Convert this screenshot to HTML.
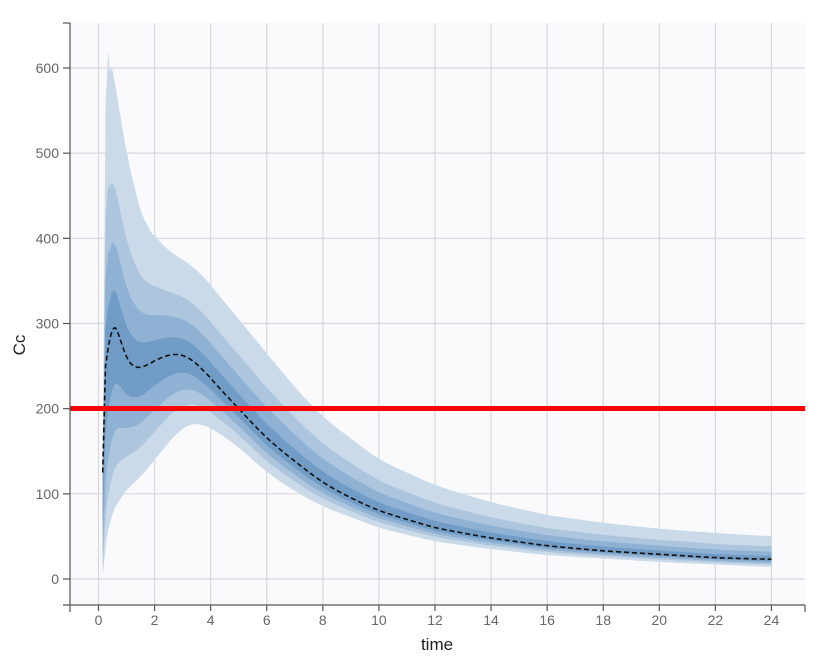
<!DOCTYPE html>
<html><head><meta charset="utf-8"><style>
body{margin:0;background:#fff;}
svg{display:block;font-family:"Liberation Sans",sans-serif;}
</style></head><body>
<svg id="s" width="837" height="662" xmlns="http://www.w3.org/2000/svg">
<rect x="70" y="23" width="735" height="582" fill="#fafafd"/>
<g id="grid" stroke="#d8d8dc" stroke-width="1.2"></g>
<g id="bands"></g>
<path id="med" fill="none" stroke="#111" stroke-width="1.6" stroke-dasharray="5,3"/>
<line x1="70" x2="805" y1="408.5" y2="408.5" stroke="#ff0000" stroke-width="5"/>
<g id="axes" stroke="#555" stroke-width="1.2" fill="none"></g>
<g id="labels" fill="#666" font-size="14"></g>
<text x="437" y="650" font-size="17" text-anchor="middle" fill="#222">time</text>
<text x="25" y="345" font-size="17" text-anchor="middle" fill="#222" transform="rotate(-90 25 345)">Cc</text>
</svg>
<script>
const X=t=>98.5+t*28.04, Y=v=>579-v*0.8517;
const NS="http://www.w3.org/2000/svg";
function el(p,n,a,txt){const e=document.createElementNS(NS,n);for(const k in a)e.setAttribute(k,a[k]);if(txt!=null)e.textContent=txt;document.getElementById(p).appendChild(e);}
for(let t=0;t<=24;t+=2)el("grid","line",{x1:X(t),x2:X(t),y1:23,y2:605});
for(let v=0;v<=600;v+=100)el("grid","line",{x1:70,x2:805,y1:Y(v),y2:Y(v)});
el("axes","line",{x1:70,x2:70,y1:23,y2:605});
el("axes","line",{x1:63,x2:805,y1:605,y2:605});
el("axes","line",{x1:63,x2:70,y1:23,y2:23});
el("axes","line",{x1:70,x2:70,y1:605,y2:612});
el("axes","line",{x1:805,x2:805,y1:605,y2:612});
for(let v=0;v<=600;v+=100){el("axes","line",{x1:63,x2:70,y1:Y(v),y2:Y(v)});el("labels","text",{x:59,y:Y(v)+5,"text-anchor":"end"},v);}
for(let t=0;t<=24;t+=2){el("axes","line",{x1:X(t),x2:X(t),y1:605,y2:611});el("labels","text",{x:X(t),y:625,"text-anchor":"middle"},t);}
function interp(pts,t){for(let i=0;i<pts.length-1;i++){if(t<=pts[i+1][0]){const [a,va]=pts[i],[b,vb]=pts[i+1];return va+(vb-va)*(t-a)/(b-a);}}return pts[pts.length-1][1];}
const med=[[0.15,125],[0.25,250],[0.5,305],[0.75,285],[1,258],[1.3,248],[1.6,249],[2,256],[2.5,265],[3,265],[3.5,255],[4,235],[5,200],[6,165],[7,138],[8,113],[9,95],[10,80],[12,60],[14,48],[16,39],[18,33],[20,29],[22,25],[24,23]];
const up=[[0.15,130],[0.25,560],[0.35,620],[0.5,600],[0.7,560],[1,500],[1.5,430],[2,400],[2.5,385],[3,375],[3.5,365],[4,345],[5,305],[6,265],[7,225],[8,190],[10,140],[12,110],[14,90],[16,75],[18,66],[20,59],[22,54],[24,50]];
const lo=[[0.15,3],[0.3,50],[0.5,80],[1,105],[1.5,120],[2,140],[2.5,160],[3,180],[3.5,185],[4,178],[5,155],[6,125],[7,103],[8,85],[10,60],[12,44],[14,35],[16,28],[18,24],[20,20],[22,17],[24,14]];
const ts=[];for(let t=0.15;t<=24.001;t+=0.05)ts.push(+t.toFixed(2));
function smooth(arr){return arr.map((v,i)=>{const t=ts[i];const w=t<0.4?0:(t<2?3:10);let s=0,n=0;for(let j=Math.max(0,i-w);j<=Math.min(arr.length-1,i+w);j++){s+=arr[j];n++;}return s/n;});}
const M=smooth(ts.map(t=>interp(med,t))), U=smooth(ts.map(t=>interp(up,t))), L=smooth(ts.map(t=>Math.max(interp(lo,t),0.5)));
const fr=[1,0.65,0.42,0.2], cols=["#cbdae9","#adc6de","#8fb1d3","#709cc6"];
fr.forEach((f,i)=>{let a=[],b=[];ts.forEach((t,k)=>{const m=M[k],u=U[k],l=L[k];
const uu=m*Math.pow(Math.max(u,m)/m,f), ll=m*Math.pow(Math.min(l,m)/m,f);
a.push(X(t).toFixed(1)+","+Y(uu).toFixed(1));b.unshift(X(t).toFixed(1)+","+Y(ll).toFixed(1));});
el("bands","polygon",{points:a.concat(b).join(" "),fill:cols[i]});});
document.getElementById("med").setAttribute("d","M"+ts.map((t,k)=>X(t).toFixed(1)+","+Y(M[k]).toFixed(1)).join(" L"));
</script>
</body></html>
